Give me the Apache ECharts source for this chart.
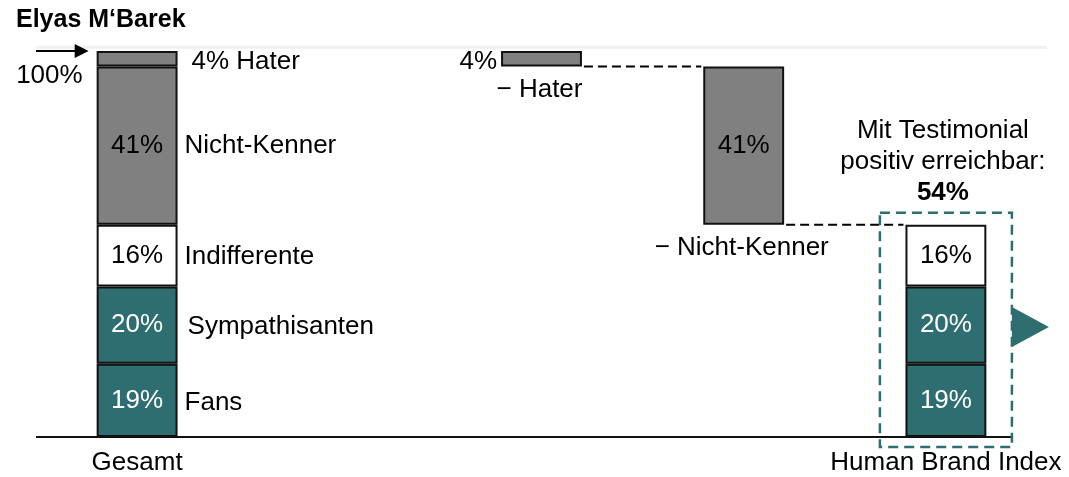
<!DOCTYPE html>
<html><head><meta charset="utf-8">
<script src="https://cdn.jsdelivr.net/npm/echarts@6/dist/echarts.min.js"></script>
<style>html,body{margin:0;padding:0;background:#fff}#c{width:1069px;height:477px}</style>
</head><body><div id="c"></div>
<script>
// ---------- data ----------
const titleText = 'Elyas M‘Barek';
const categories = ['Gesamt', 'Lücke', 'Hater', 'Nicht-Kenner', 'Human Brand Index'];
const tickLabels = ['Gesamt', '', '', '', 'Human Brand Index'];
const segmentNames = ['Fans', 'Sympathisanten', 'Indifferente', 'Nicht-Kenner', 'Hater'];
const segmentValues = [19, 20, 16, 41, 4];
const removedSegments = ['Hater', 'Nicht-Kenner'];
const reachableSegments = ['Fans', 'Sympathisanten', 'Indifferente'];
const reachableShare = [54];
const calloutLines = ['Mit Testimonial', 'positiv erreichbar:'];
const startLabel = '100%';

// ---------- styles ----------
const FONT = '"Liberation Sans", Arial, Helvetica, sans-serif';
const FS = 26;
const TEAL = '#2f6e70';
const GRAY = '#808080';
const BAR_RATIO = 0.4;
const segColor = {Fans: TEAL, Sympathisanten: TEAL, Indifferente: '#ffffff', 'Nicht-Kenner': GRAY, Hater: GRAY};
const segText = {Fans: '#ffffff', Sympathisanten: '#ffffff', Indifferente: '#000000', 'Nicht-Kenner': '#000000', Hater: '#000000'};
const sideGap = {Fans: 7, Sympathisanten: 10, Indifferente: 7, 'Nicht-Kenner': 7, Hater: 14};
const sideDy = {Fans: 2, Sympathisanten: 2, Indifferente: 1, 'Nicht-Kenner': 0, Hater: 3};

// ---------- derived ----------
const total = segmentValues.reduce((a, b) => a + b, 0);
const bottoms = {}; const vals = {};
let acc = 0;
segmentNames.forEach((n, i) => { bottoms[n] = acc; vals[n] = segmentValues[i]; acc += segmentValues[i]; });
const iG = 0, iHBI = categories.length - 1;
const stepIndex = n => categories.indexOf(n);

const baseData = categories.map((c, i) => removedSegments.includes(c) ? bottoms[c] : '-');

const insideLabel = (n) => ({show: true, position: 'inside', formatter: vals[n] + '%',
  color: segText[n], fontSize: FS, fontFamily: FONT});

const barSeries = segmentNames.map(n => ({
  name: n, type: 'bar', stack: 'w', barWidth: (BAR_RATIO * 100) + '%',
  itemStyle: {color: segColor[n], borderColor: '#111', borderWidth: 2},
  emphasis: {disabled: true},
  data: categories.map((c, i) => {
    if (i === iG) return {value: vals[n], label: n === 'Hater' ? {show: false} : insideLabel(n)};
    if (c === n) return {value: vals[n], label: n === 'Hater'
      ? {show: true, position: 'left', distance: 4, offset: [0, 3], formatter: vals[n] + '%', color: '#000', fontSize: FS, fontFamily: FONT}
      : insideLabel(n)};
    if (i === iHBI && reachableSegments.includes(n)) return {value: vals[n], label: insideLabel(n)};
    return '-';
  })
}));

function renderDecor(params, api) {
  const cs = params.coordSys;
  const bw = api.size([1, 0])[0] * BAR_RATIO;
  const Y = v => api.coord([0, v])[1];
  const X = i => api.coord([i, 0])[0];
  const ch = [];
  const txt = (text, x, y, align, opts) => ch.push({type: 'text', style: Object.assign({
    text, x, y, align, verticalAlign: 'middle', fontSize: FS, fontFamily: FONT, fill: '#000'}, opts || {})});
  // faint top line
  ch.push({type: 'line', shape: {x1: cs.x, y1: Y(101), x2: cs.x + cs.width, y2: Y(101)},
    style: {stroke: '#eef1f1', lineWidth: 3}});
  // box geometry
  const hx = X(iHBI);
  const boxL = hx - 66, boxR = hx + 66, boxT = Y(bottoms['Nicht-Kenner']) - 12, boxB = Y(0) + 10;
  // baseline
  ch.push({type: 'line', shape: {x1: cs.x, y1: Y(0), x2: boxR, y2: Y(0)}, style: {stroke: '#111', lineWidth: 2}});
  // start arrow
  const ay = Y(total);
  const tip = X(iG) - bw / 2 - 8;
  ch.push({type: 'line', shape: {x1: cs.x, y1: ay, x2: tip - 10, y2: ay}, style: {stroke: '#000', lineWidth: 2}});
  ch.push({type: 'polygon', shape: {points: [[tip - 14, ay - 7], [tip, ay], [tip - 14, ay + 7]]}, style: {fill: '#000'}});
  txt(startLabel, X(iG) - bw / 2 - 14, ay + 25, 'right');
  // side labels of Gesamt
  segmentNames.forEach(n => {
    const t = n === 'Hater' ? vals[n] + '% ' + n : n;
    txt(t, X(iG) + bw / 2 + sideGap[n], Y(bottoms[n] + vals[n] / 2) + sideDy[n], 'left');
  });
  // waterfall connectors and step labels
  removedSegments.forEach((n, k) => {
    const si = stepIndex(n);
    const nextI = k + 1 < removedSegments.length ? stepIndex(removedSegments[k + 1]) : iHBI;
    const yb = Y(bottoms[n]);
    ch.push({type: 'line', shape: {x1: X(si) + bw / 2 + 2, y1: yb, x2: X(nextI) - bw / 2 - 2, y2: yb},
      style: {stroke: '#000', lineWidth: 2, lineDash: [9, 5]}});
    txt('− ' + n, X(si) - 2, yb + 23, 'center');
  });
  // teal dashed box
  ch.push({type: 'rect', shape: {x: boxL, y: boxT, width: boxR - boxL, height: boxB - boxT},
    style: {fill: 'none', stroke: TEAL, lineWidth: 2.5, lineDash: [10, 6]}});
  // triangle
  const ty = Y(vals.Fans + vals.Sympathisanten / 2) + 2;
  ch.push({type: 'polygon', shape: {points: [[boxR, ty - 20], [boxR + 37, ty], [boxR, ty + 20]]}, style: {fill: TEAL}});
  // callout
  txt(calloutLines[0], hx - 3, boxT - 82, 'center');
  txt(calloutLines[1], hx - 3, boxT - 51, 'center');
  txt(reachableShare[0] + '%', hx - 3, boxT - 20, 'center', {fontWeight: 'bold'});
  return {type: 'group', children: ch};
}

const option = {
  animation: false,
  title: {text: titleText, left: 11, top: 3, textStyle: {fontSize: 25, fontWeight: 'bold', fontFamily: FONT, color: '#000'}},
  grid: {left: 36, right: 22, top: 51, bottom: 40},
  xAxis: {type: 'category', data: categories, axisLine: {show: false}, axisTick: {show: false},
    axisLabel: {interval: 0, margin: 13, fontSize: FS, fontFamily: FONT, color: '#000',
      formatter: (v, i) => tickLabels[i]}},
  yAxis: {type: 'value', min: 0, max: total, show: false},
  series: [{name: 'base', type: 'bar', stack: 'w', barWidth: (BAR_RATIO * 100) + '%',
    itemStyle: {color: 'transparent'}, silent: true, data: baseData}]
    .concat(barSeries)
    .concat([{type: 'custom', silent: true, z: 10, renderItem: renderDecor, data: [[0, 0]]}])
};
const chart = echarts.init(document.getElementById('c'));
chart.setOption(option);
</script>
</body></html>
